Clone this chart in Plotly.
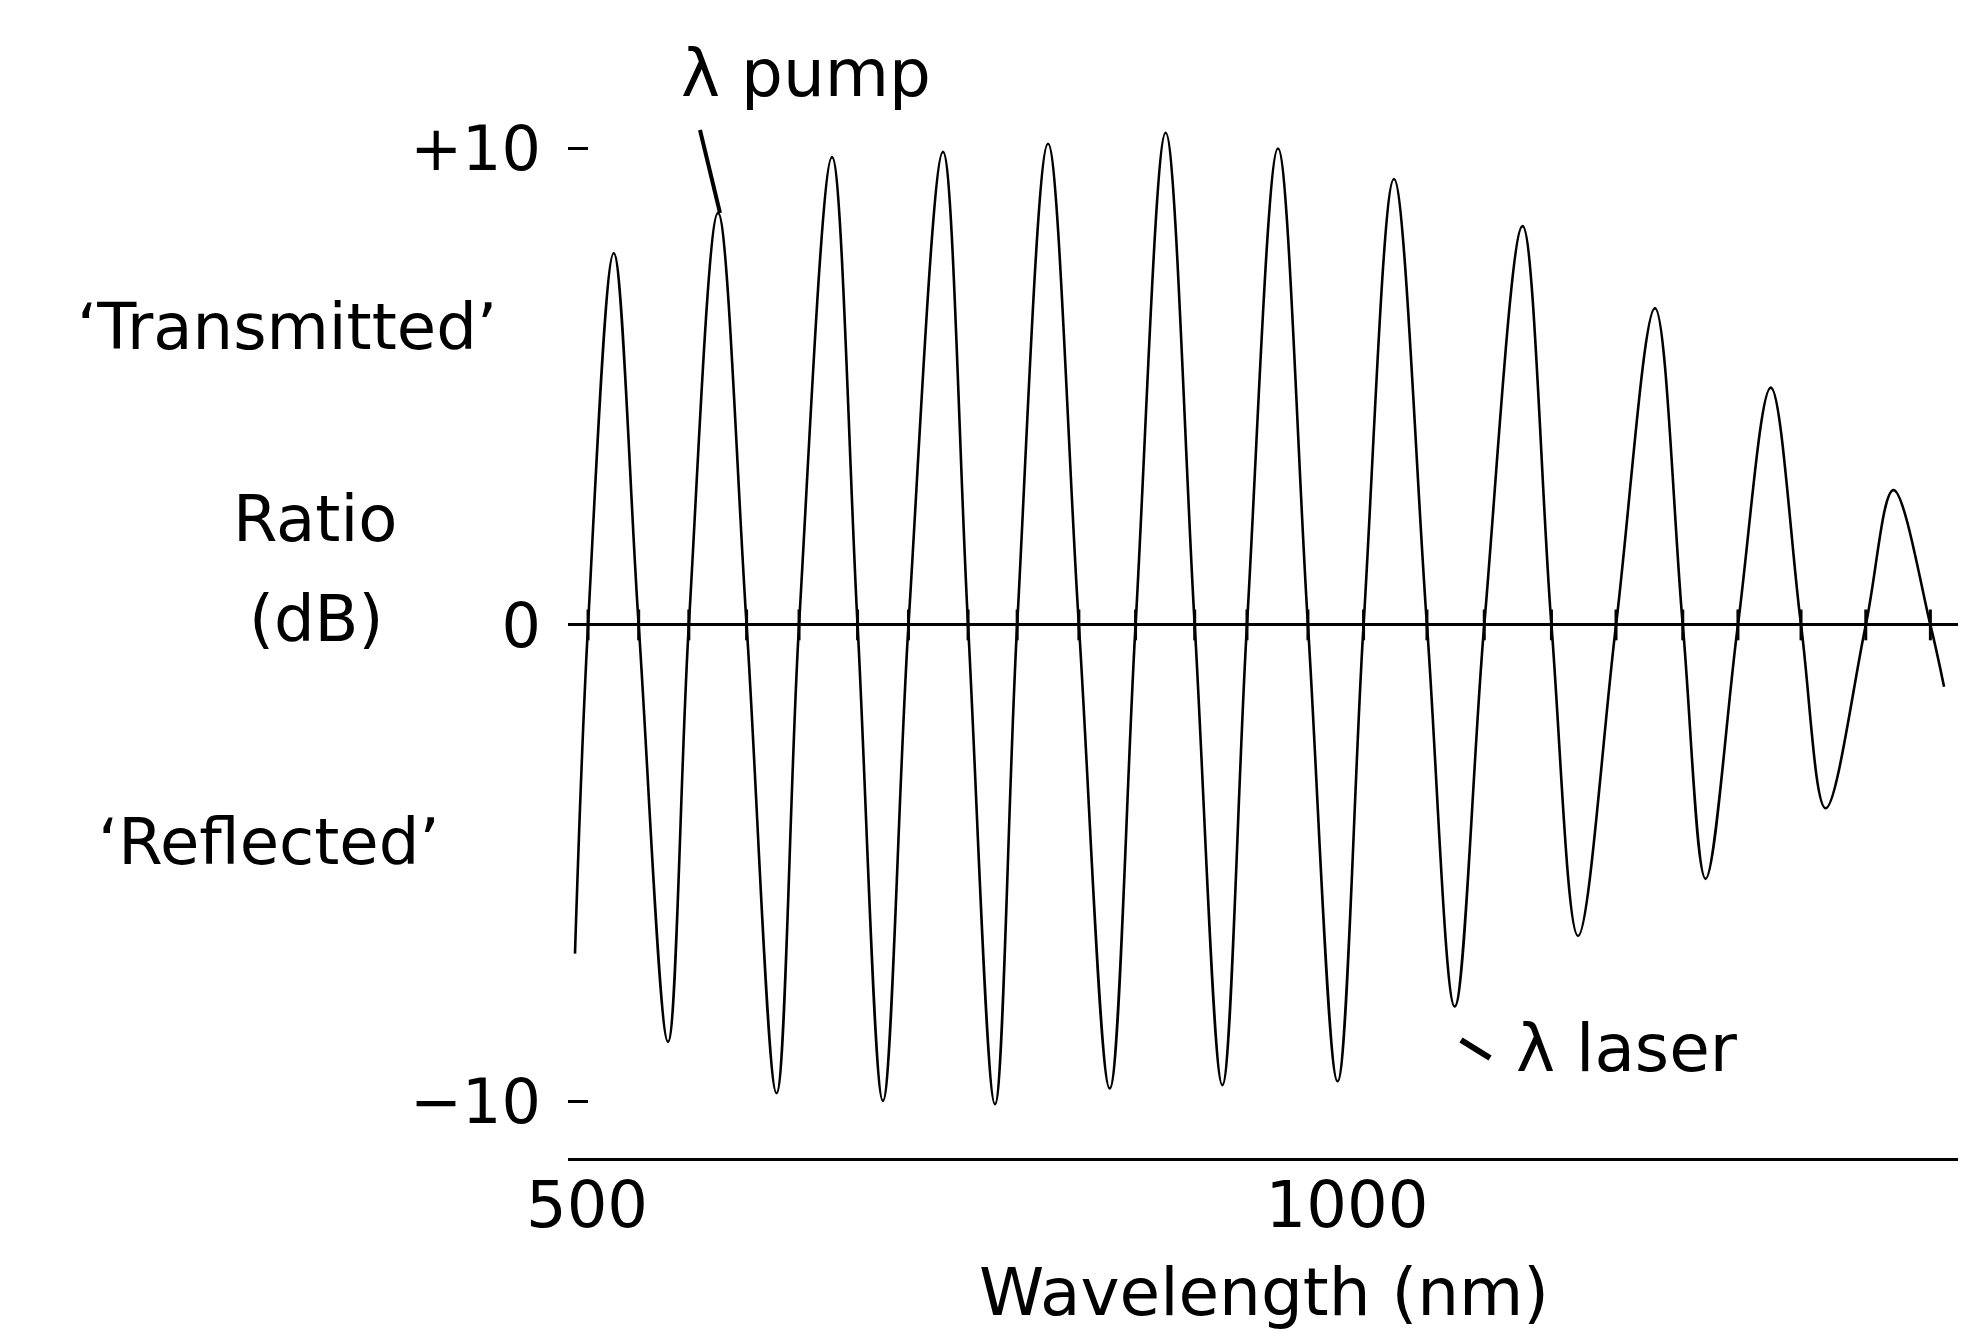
import plotly.graph_objects as go

# ---- data (wavelength in nm, ratio in dB) ----
start_nm = [492.1]
start_db = [-6.9]
zero_nm = [500.7, 534.0, 567.0, 605.0, 639.5, 678.0, 711.5, 750.7, 783.0, 823.6,
           860.9, 899.8, 934.2, 974.3, 1010.9, 1052.6, 1090.3, 1134.5, 1177.0,
           1220.9, 1257.2, 1298.7, 1341.3, 1383.8]
peak_nm = [517.6, 586.2, 661.2, 734.2, 803.3, 880.7, 954.6, 1030.9, 1115.5,
           1202.6, 1278.8, 1359.5]
peak_db = [7.8, 8.65, 9.82, 9.93, 10.1, 10.33, 10.0, 9.36, 8.37, 6.65, 4.98, 2.83]
trough_nm = [553.3, 624.7, 694.7, 768.4, 843.9, 918.0, 993.8, 1070.9, 1152.0,
             1235.9, 1314.9]
trough_db = [-8.75, -9.83, -9.99, -10.06, -9.73, -9.66, -9.58, -8.01, -6.53,
             -5.33, -3.85]
end_nm = [1392.8]
end_db = [-1.3]

x_ticks = [500, 1000]
x_ticktext = ["500", "1000"]
y_ticks = [10, 0, -10]
y_ticktext = ["+10", "0", "\u221210"]

# ---- build the curve from the read points ----
pts = list(zip(start_nm, start_db))
pts += [(x, 0.0) for x in zero_nm]
pts += list(zip(peak_nm, peak_db))
pts += list(zip(trough_nm, trough_db))
pts += list(zip(end_nm, end_db))
pts.sort(key=lambda p: p[0])
cx = [p[0] for p in pts]
cy = [p[1] for p in pts]

W, H = 1966, 1336
L, R, T, B = 560, 0, 60, 186
PW, PH = W - L - R, H - T - B

def px(x):
    return (x - L) / PW

def py(y):
    return (H - B - y) / PH

FONT = "DejaVu Sans"

fig = go.Figure()
fig.add_trace(go.Scatter(
    x=cx, y=cy, mode="lines",
    line=dict(color="black", width=2.6, shape="spline", smoothing=1.0),
    hoverinfo="skip", showlegend=False))
fig.add_trace(go.Scatter(
    x=zero_nm, y=[0] * len(zero_nm), mode="markers",
    marker=dict(symbol="line-ns", size=22, line=dict(color="black", width=3)),
    hoverinfo="skip", showlegend=False))

# text, x, y, size, xanchor
annots = [
    ("\u2018Transmitted\u2019", 279, 319, 64, "center"),
    ("Ratio", 307, 511, 64, "center"),
    ("(dB)", 308, 611, 64, "center"),
    ("\u2018Reflected\u2019", 261, 834, 64, "center"),
    ("\u03bb pump", 671, 66, 66, "left"),
    ("\u03bb laser", 1506, 1040, 66, "left"),
    ("Wavelength (nm)", 1256, 1284, 66, "center"),
]
annotations = [
    dict(text=t, x=px(x), y=py(y), xref="paper", yref="paper",
         xanchor=a, yanchor="middle", showarrow=False,
         font=dict(family=FONT, size=s, color="black"))
    for t, x, y, s, a in annots
]

shapes = [
    dict(type="line", xref="paper", yref="paper",
         x0=px(692), y0=py(122), x1=px(712), y1=py(205),
         line=dict(color="black", width=4)),
    dict(type="line", xref="paper", yref="paper",
         x0=px(1453), y0=py(1032), x1=px(1482), y1=py(1050),
         line=dict(color="black", width=6)),
]

fig.update_layout(
    width=W, height=H,
    margin=dict(l=L, r=R, t=T, b=B, pad=0),
    paper_bgcolor="white", plot_bgcolor="white",
    font=dict(family=FONT, color="black"),
    annotations=annotations, shapes=shapes,
    xaxis=dict(range=[487.5, 1412.5], showgrid=False, zeroline=False,
               showline=True, linecolor="black", linewidth=2.5,
               tickvals=x_ticks, ticktext=x_ticktext, ticks="", ticklen=0,
               tickfont=dict(family=FONT, size=64, color="black"),
               ticklabelstandoff=-11),
    yaxis=dict(range=[-11.19, 11.69], showgrid=False,
               zeroline=True, zerolinecolor="black", zerolinewidth=2.5,
               showline=False, tickvals=y_ticks, ticktext=y_ticktext,
               ticks="inside", ticklen=20, tickwidth=2.5, tickcolor="black",
               tickfont=dict(family=FONT, size=62, color="black"),
               ticklabelstandoff=26),
)

fig.write_html("out.html")
